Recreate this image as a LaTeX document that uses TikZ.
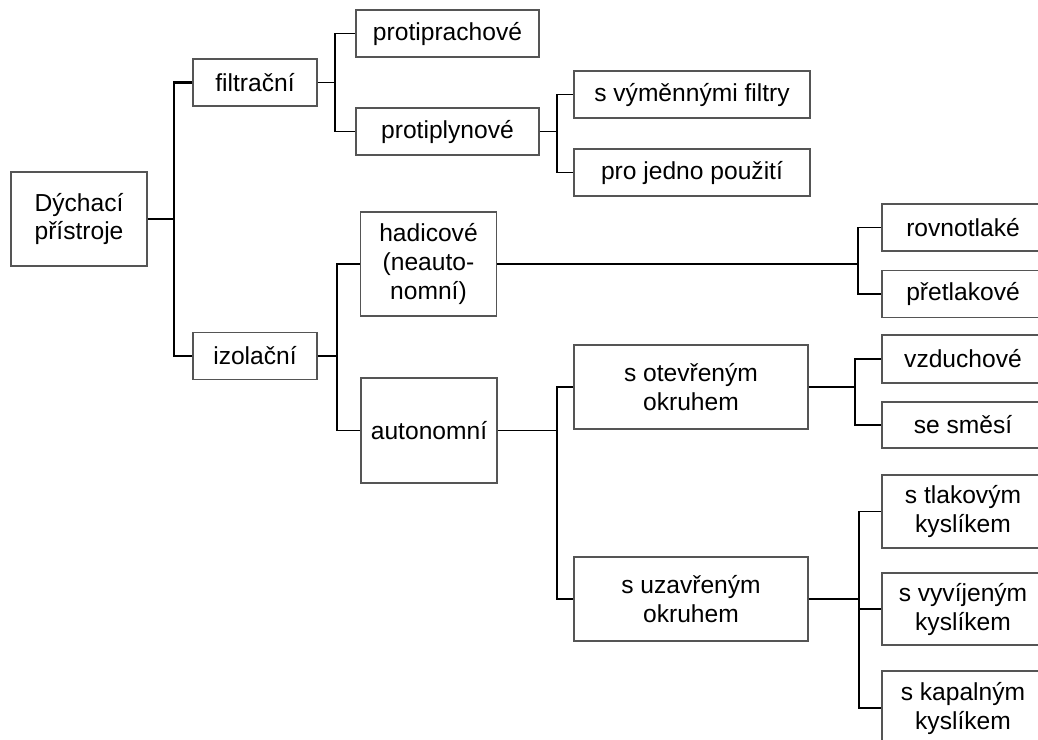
\documentclass[tikz,border=0pt]{standalone}
\usepackage{fontspec}
\setmainfont{Liberation Sans}
\usetikzlibrary{positioning}
\definecolor{boxgray}{RGB}{85,85,85}

\begin{document}
\begin{tikzpicture}[
    x=0.02cm, y=-0.02cm,
    box/.style={rectangle, draw=boxgray, line width=0.8pt, align=center, inner sep=0pt,
        font=\fontsize{14}{16.5}\selectfont},
    small/.style={box, minimum height=0.94cm},
    link/.style={draw=black, line width=0.9pt}
]
    \useasboundingbox (0,0) rectangle (1038,740);
    \clip (0,0) rectangle (1038,740);

    \node[box, minimum width=2.72cm, minimum height=1.88cm] (dych) at (79,219) {Dýchací\\přístroje};

    \node[small, minimum width=2.48cm] (filtr) at (255,82.5) {filtrační};
    \node[small, minimum width=2.48cm] (izol) at (255,356) {izolační};

    \node[small, minimum width=3.66cm] (prach) at (447.5,33.5) {protiprachové};
    \node[small, minimum width=3.66cm] (plyn) at (447.5,131.5) {protiplynové};

    \node[small, minimum width=4.72cm] (vymen) at (692,94.5) {s výměnnými filtry};
    \node[small, minimum width=4.72cm] (jedno) at (692,172.5) {pro jedno použití};

    \node[box, minimum width=2.72cm, minimum height=2.08cm] (hadic) at (428.5,264) {hadicové\\(neauto-\\nomní)};
    \node[box, minimum width=2.72cm, minimum height=2.1cm] (auton) at (429,430.5) {autonomní};

    \node[box, minimum width=4.68cm, minimum height=1.68cm] (otevr) at (691,387) {s otevřeným\\okruhem};
    \node[box, minimum width=4.68cm, minimum height=1.68cm] (uzavr) at (691,599) {s uzavřeným\\okruhem};

    \foreach \n/\y/\h/\t in {rovno/227.5/0.94/rovnotlaké, pretl/294/0.94/přetlakové,
        vzduch/359/0.96/vzduchové, smes/425/0.92/se směsí,
        tlak/511.5/1.46/{s tlakovým\\kyslíkem}, vyvij/609/1.44/{s vyvíjeným\\kyslíkem},
        kapal/708/1.48/{s kapalným\\kyslíkem}} {
        \node[box, minimum width=3.24cm, minimum height=\h cm] (\n) at (963,\y) {\t};
    }

    \coordinate (j0) at (174,219);
    \coordinate (j1) at (335,82.5);
    \coordinate (j2) at (337,356);
    \coordinate (j3) at (557,131.5);
    \coordinate (j4) at (858,264);
    \coordinate (j5) at (557,430.5);
    \coordinate (j6) at (855,387);
    \coordinate (j7) at (859,599);

    \draw[link, line width=1.2pt] (dych) -- (j0);
    \draw[link, line width=1.2pt] (j0) |- (filtr);
    \draw[link, line width=1.2pt] (j0) |- (izol);

    \draw[link] (filtr) -- (j1);
    \foreach \c in {prach, plyn} {
        \draw[link] (j1) |- (\c);
    }

    \draw[link] (plyn) -- (j3);
    \foreach \c in {vymen, jedno} {
        \draw[link] (j3) |- (\c);
    }

    \draw[link] (izol) -- (j2);
    \foreach \c in {hadic, auton} {
        \draw[link] (j2) |- (\c);
    }

    \draw[link] (hadic) -- (j4);
    \foreach \c in {rovno, pretl} {
        \draw[link] (j4) |- (\c);
    }

    \draw[link] (auton) -- (j5);
    \foreach \c in {otevr, uzavr} {
        \draw[link] (j5) |- (\c);
    }

    \draw[link] (otevr) -- (j6);
    \foreach \c in {vzduch, smes} {
        \draw[link] (j6) |- (\c);
    }

    \draw[link] (uzavr) -- (j7);
    \foreach \c in {tlak, vyvij, kapal} {
        \draw[link] (j7) |- (\c);
    }
\end{tikzpicture}
\end{document}
